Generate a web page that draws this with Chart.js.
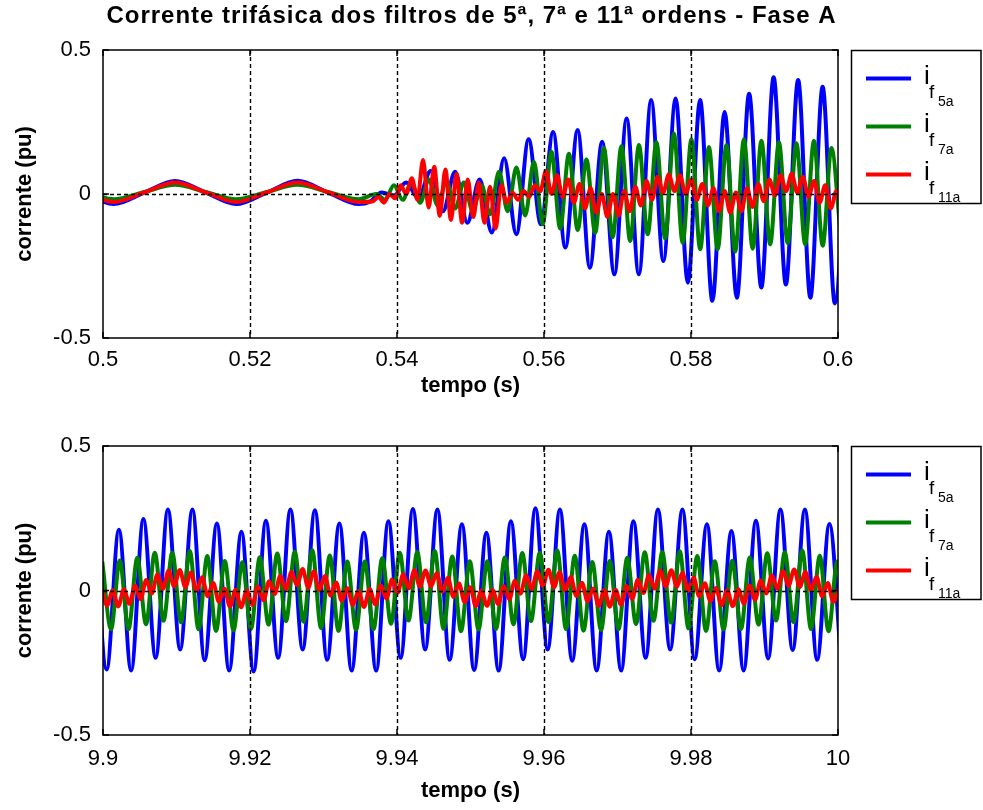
<!DOCTYPE html>
<html>
<head>
<meta charset="utf-8">
<script src="https://cdn.jsdelivr.net/npm/chart.js@4.4.1/dist/chart.umd.min.js"></script>
<style>
  html, body { margin: 0; padding: 0; background: #fff; }
  #wrap { position: relative; width: 983px; height: 810px; overflow: hidden; }
  canvas { position: absolute; left: 0; }
</style>
</head>
<body>
<div id="wrap">
  <canvas id="topChart" width="983" height="405" style="top:0"></canvas>
  <canvas id="botChart" width="983" height="405" style="top:405px"></canvas>
</div>
<script>
const titleText = 'Corrente trifásica dos filtros de 5ª, 7ª e 11ª ordens - Fase A';
const xTitle = 'tempo (s)';
const yTitle = 'corrente (pu)';
const seriesNames = ['5a', '7a', '11a'];
const seriesColors = ['#0000ff', '#008000', '#ff0000'];

const topXTicks = [0.5, 0.52, 0.54, 0.56, 0.58, 0.6];
const topXLabels = ['0.5', '0.52', '0.54', '0.56', '0.58', '0.6'];
const botXTicks = [9.9, 9.92, 9.94, 9.96, 9.98, 10];
const botXLabels = ['9.9', '9.92', '9.94', '9.96', '9.98', '10'];
const yTicks = [-0.5, 0, 0.5];
const yLabels = ['-0.5', '0', '0.5'];

// upper plot, 60 Hz part before the filters start to oscillate (quarter periods)
const leadT = [0.4973, 0.50147, 0.50564, 0.5098, 0.51397, 0.51813, 0.5223, 0.52647, 0.53063, 0.5348];
const leadBlue = [0.005, -0.035, 0.005, 0.045, 0.005, -0.035, 0.005, 0.046, 0.005, -0.035];
const leadGreen = [0.007, -0.018, 0.007, 0.032, 0.007, -0.018, 0.007, 0.032, 0.007, -0.018];
const leadRed = [0.006, -0.028, 0.006, 0.040, 0.006, -0.028, 0.006, 0.040, 0.006, -0.028];

// half periods of the 5th, 7th and 11th harmonics
const step5 = 1 / 600;
const step7 = 1 / 840;
const step11 = 0.00076;

// upper plot, peaks / valleys
const topBlueStart = 0.53624;
const topBlue = [-0.028, 0.005, -0.005, 0.040, -0.015, 0.080, -0.060, 0.077, -0.100, 0.050,
  -0.134, 0.124, -0.140, 0.190, -0.105, 0.215, -0.186, 0.222, -0.256, 0.181,
  -0.279, 0.262, -0.279, 0.326, -0.233, 0.332, -0.308, 0.326, -0.371, 0.285,
  -0.360, 0.348, -0.325, 0.405, -0.314, 0.396, -0.360, 0.372, -0.380, 0.250];

const topGreenStart = 0.5372;
const topGreen = [0.000, -0.020, 0.030, -0.020, 0.040, -0.030, 0.050, -0.040, 0.045, -0.050,
  0.040, -0.060, 0.030, -0.070, 0.077, -0.060, 0.092, -0.075, 0.112, -0.105,
  0.147, -0.120, 0.140, -0.125, 0.120, -0.135, 0.160, -0.150, 0.166, -0.163,
  0.170, -0.140, 0.180, -0.155, 0.210, -0.170, 0.190, -0.192, 0.163, -0.192,
  0.170, -0.200, 0.190, -0.190, 0.185, -0.175, 0.180, -0.170, 0.176, -0.175,
  0.185, -0.180, 0.160, -0.120];

const topRedStart = 0.5367;
const topRed = [-0.025, -0.010, -0.030, 0.000, -0.015, 0.030, 0.000, 0.055, -0.020, 0.118,
  -0.047, 0.095, -0.076, 0.085, -0.090, 0.070, -0.100, 0.050, -0.080, 0.040,
  -0.100, 0.025, -0.120, 0.030, -0.030, 0.005, -0.020, 0.010, -0.010, 0.030,
  0.010, 0.080, 0.000, 0.065, -0.010, 0.050, -0.030, 0.035, -0.050, 0.020,
  -0.065, 0.000, -0.080, 0.000, -0.075, 0.010, -0.060, 0.025, -0.040, 0.045,
  -0.020, 0.060, 0.005, 0.068, 0.010, 0.065, 0.000, 0.050, -0.020, 0.035,
  -0.040, 0.020, -0.060, 0.010, -0.065, 0.005, -0.060, 0.020, -0.045, 0.035,
  -0.025, 0.050, -0.005, 0.065, 0.010, 0.070, 0.005, 0.060, -0.010, 0.045,
  -0.030, 0.030, -0.050, 0.010, -0.050];

// lower plot (steady state)
const botBlueStart = 9.89883;
const botBlue = [0.232,
  -0.273, 0.210, -0.277, 0.247, -0.233, 0.280, -0.204, 0.280, -0.241, 0.232,
  -0.277, 0.203, -0.280, 0.241, -0.233, 0.280, -0.204, 0.278, -0.240, 0.232,
  -0.277, 0.200, -0.277, 0.240, -0.233, 0.282, -0.204, 0.280, -0.240, 0.229,
  -0.275, 0.200, -0.277, 0.240, -0.238, 0.285, -0.204, 0.280, -0.243, 0.229,
  -0.277, 0.203, -0.277, 0.240, -0.233, 0.280, -0.204, 0.280, -0.238, 0.229,
  -0.277, 0.206, -0.277, 0.241, -0.235, 0.280, -0.206, 0.280, -0.240, 0.230,
  -0.276];

const botGreenStart = 9.8999;
const botGreen = [
  0.100, -0.134, 0.104, -0.134, 0.113, -0.117, 0.131, -0.105, 0.131, -0.110, 0.137, -0.134, 0.119, -0.140,
  0.102, -0.138, 0.098, -0.132, 0.115, -0.118, 0.128, -0.106, 0.134, -0.108, 0.139, -0.130, 0.121, -0.140,
  0.100, -0.136, 0.100, -0.134, 0.112, -0.115, 0.131, -0.104, 0.133, -0.110, 0.137, -0.132, 0.118, -0.141,
  0.101, -0.135, 0.101, -0.133, 0.114, -0.117, 0.130, -0.106, 0.131, -0.109, 0.138, -0.133, 0.120, -0.139,
  0.099, -0.137, 0.102, -0.134, 0.113, -0.116, 0.132, -0.105, 0.133, -0.111, 0.136, -0.131, 0.119, -0.140,
  0.101, -0.135, 0.103, -0.133, 0.114, -0.118, 0.129, -0.104, 0.132, -0.109, 0.138, -0.133, 0.120, -0.141,
  0.100, -0.136];

const botRedStart = 9.8998;
const botRed = [
  0.010, -0.052, 0.001, -0.055, 0.004, -0.046, 0.017, -0.030, 0.036, -0.010, 0.055,
  0.006, 0.068, 0.015, 0.071, 0.012, 0.062, -0.001, 0.046, -0.020, 0.026, -0.039,
  0.006, -0.056, 0.003, -0.058, 0.000, -0.050, 0.014, -0.034, 0.032, -0.012, 0.050,
  0.004, 0.064, 0.018, 0.074, 0.010, 0.066, 0.002, 0.050, -0.018, 0.028, -0.036,
  0.008, -0.050, -0.002, -0.057, 0.005, -0.048, 0.018, -0.028, 0.038, -0.008, 0.056,
  0.008, 0.070, 0.013, 0.069, 0.014, 0.060, -0.004, 0.044, -0.022, 0.024, -0.040,
  0.011, -0.054, 0.000, -0.053, 0.002, -0.047, 0.015, -0.031, 0.034, -0.011, 0.053,
  0.005, 0.066, 0.016, 0.072, 0.011, 0.063, 0.000, 0.047, -0.019, 0.027, -0.038,
  0.007, -0.053, 0.002, -0.056, 0.003, -0.049, 0.016, -0.029, 0.037, -0.009, 0.054,
  0.007, 0.069, 0.014, 0.070, 0.013, 0.061, -0.002, 0.045, -0.021, 0.025, -0.037,
  0.009, -0.051, 0.001, -0.054, 0.004, -0.045, 0.017, -0.032, 0.035, -0.010, 0.052,
  0.006, 0.067, 0.017, 0.073, 0.012, 0.064, 0.001, 0.048, -0.020, 0.026, -0.039,
  0.008];

function pts(t0, dt, vals) {
  return vals.map((v, i) => ({ x: t0 + i * dt, y: v }));
}
function lead(vals) {
  return leadT.map((t, i) => ({ x: t, y: vals[i] }));
}

const FONT = "'Liberation Sans', Arial, sans-serif";
Chart.defaults.font.family = FONT;
Chart.defaults.color = '#000';

// box, dashed grid, inward ticks, legend and title (MATLAB look)
const frame = {
  id: 'frame',
  afterDatasetsDraw(chart, args, opts) {
    const { ctx, chartArea: a, scales: { x, y } } = chart;
    ctx.save();
    const seg = (x1, y1, x2, y2) => { ctx.beginPath(); ctx.moveTo(x1, y1); ctx.lineTo(x2, y2); ctx.stroke(); };

    ctx.strokeStyle = '#000';
    ctx.lineWidth = 1.4;
    ctx.setLineDash([4, 3]);
    opts.xTicks.slice(1, -1).forEach(v => {
      const px = Math.round(x.getPixelForValue(v)) + 0.5;
      seg(px, a.top, px, a.bottom);
    });
    const py0 = Math.round(y.getPixelForValue(0)) + 0.5;
    seg(a.left, py0, a.right, py0);
    ctx.setLineDash([]);

    ctx.lineWidth = 1.5;
    opts.xTicks.forEach(v => {
      const px = x.getPixelForValue(v);
      seg(px, a.bottom, px, a.bottom - 6);
      seg(px, a.top, px, a.top + 6);
    });
    yTicks.forEach(v => {
      const py = y.getPixelForValue(v);
      seg(a.left, py, a.left + 6, py);
      seg(a.right, py, a.right - 6, py);
    });
    ctx.strokeRect(a.left, a.top, a.right - a.left, a.bottom - a.top);

    // legend
    const lx = 851.5, ly = a.top + 0.5;
    ctx.lineWidth = 1.5;
    ctx.strokeRect(lx, ly, 129.5, 153);
    seriesNames.forEach((name, i) => {
      const cy = ly + 28 + i * 48;
      ctx.strokeStyle = seriesColors[i];
      ctx.lineWidth = 4;
      seg(866, cy, 911, cy);
      ctx.fillStyle = '#000';
      ctx.textAlign = 'left';
      ctx.textBaseline = 'alphabetic';
      ctx.font = '26px ' + FONT;
      ctx.fillText('i', 924, cy + 5);
      ctx.font = '19px ' + FONT;
      ctx.fillText('f', 929, cy + 19);
      ctx.font = '14px ' + FONT;
      ctx.fillText(name, 938, cy + 27);
    });

    if (opts.title) {
      ctx.fillStyle = '#000';
      ctx.font = 'bold 24px ' + FONT;
      ctx.letterSpacing = '1px';
      ctx.textAlign = 'center';
      ctx.textBaseline = 'middle';
      ctx.fillText(opts.title, (a.left + a.right) / 2 + 1, 16);
    }
    ctx.restore();
  }
};

function makePanel(id, cfg) {
  const mk = (label, color, data, order) => ({
    label, data, order,
    borderColor: color,
    borderWidth: 4,
    pointRadius: 0,
    fill: false,
    cubicInterpolationMode: 'monotone',
    clip: 0
  });
  return new Chart(document.getElementById(id), {
    type: 'line',
    data: {
      datasets: [
        mk('if5a', seriesColors[0], cfg.blue, 3),
        mk('if7a', seriesColors[1], cfg.green, 2),
        mk('if11a', seriesColors[2], cfg.red, 1)
      ]
    },
    plugins: [frame],
    options: {
      responsive: false,
      animation: false,
      devicePixelRatio: 1,
      layout: { padding: { top: cfg.areaTop, right: 145, left: 0, bottom: 0 } },
      plugins: {
        legend: { display: false },
        tooltip: { enabled: false },
        frame: { xTicks: cfg.xTicks, title: cfg.title }
      },
      scales: {
        x: {
          type: 'linear',
          min: cfg.xTicks[0],
          max: cfg.xTicks[cfg.xTicks.length - 1],
          afterFit: s => { s.height = cfg.axisH; },
          afterBuildTicks: s => { s.ticks = cfg.xTicks.map(v => ({ value: v })); },
          ticks: {
            callback: (v, i) => cfg.xLabels[i],
            font: { size: 22 },
            padding: cfg.tickPad,
            maxRotation: 0,
            autoSkip: false
          },
          grid: { display: false },
          border: { display: false },
          title: {
            display: true,
            text: xTitle,
            font: { size: 22, weight: 'bold' },
            padding: { top: 0, bottom: cfg.titlePad }
          }
        },
        y: {
          min: -0.5,
          max: 0.5,
          afterFit: s => { s.width = 103; },
          afterBuildTicks: s => { s.ticks = yTicks.map(v => ({ value: v })); },
          ticks: {
            callback: (v, i) => yLabels[i],
            font: { size: 22 },
            padding: 4
          },
          grid: { display: false },
          border: { display: false },
          title: {
            display: true,
            text: yTitle,
            font: { size: 22, weight: 'bold' },
            padding: { top: 12, bottom: 0 }
          }
        }
      }
    }
  });
}

makePanel('topChart', {
  areaTop: 50, axisH: 67, tickPad: 1, titlePad: 6,
  xTicks: topXTicks, xLabels: topXLabels, title: titleText,
  blue: lead(leadBlue).concat(pts(topBlueStart, step5, topBlue)),
  green: lead(leadGreen).concat(pts(topGreenStart, step7, topGreen)),
  red: lead(leadRed).concat(pts(topRedStart, step11, topRed))
});

makePanel('botChart', {
  areaTop: 41, axisH: 75, tickPad: 3, titlePad: 6,
  xTicks: botXTicks, xLabels: botXLabels, title: null,
  blue: pts(botBlueStart, step5, botBlue),
  green: pts(botGreenStart, step7, botGreen),
  red: pts(botRedStart, step11, botRed)
});
</script>
</body>
</html>
